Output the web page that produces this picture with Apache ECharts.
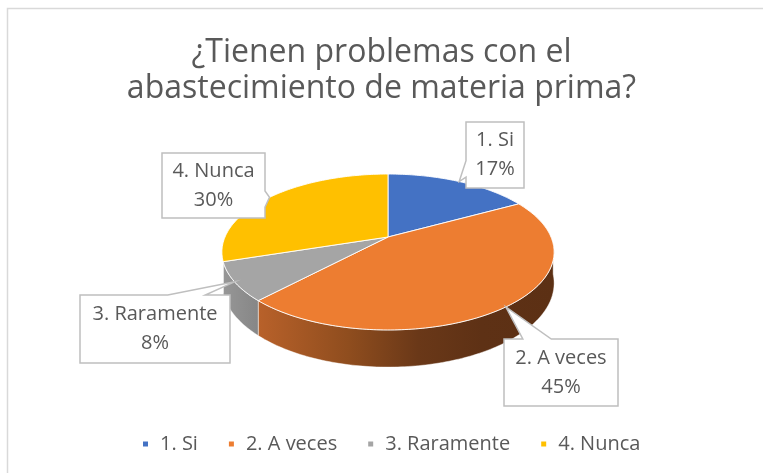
<!DOCTYPE html>
<html>
<head>
<meta charset="utf-8">
<script src="https://cdn.jsdelivr.net/npm/echarts@6/dist/echarts.min.js"></script>
<style>
  html, body { margin: 0; padding: 0; background: #fff; }
  #main { width: 763px; height: 473px; }
</style>
</head>
<body>
<div id="main"></div>
<script>
// datos
var categorias = ['1. Si', '2. A veces', '3. Raramente', '4. Nunca'];
var valores = [17, 45, 8, 30];
var colores = ['#4472c4', '#ed7d31', '#a5a5a5', '#ffc000'];

// cajas de las etiquetas [x, y, ancho, alto]
var cajas = [[466, 122, 58, 66], [504, 339, 114, 67], [80, 295, 150, 68], [162, 153, 103, 65]];

// degradados del lateral (izquierda -> derecha)
var lados = [
  [[0, '#3b63ab'], [1, '#233c69']],
  [[0, '#c56a2c'], [0.11, '#b8612a'], [0.38, '#8f4d1e'], [0.59, '#6a3818'], [0.78, '#5e3115'], [1, '#5c3014']],
  [[0, '#979797'], [0.11, '#868686'], [0.38, '#6e6e6e'], [1, '#555555']],
  [[0, '#c99700'], [1, '#7a5c00']]
];

// geometria del pastel (perspectiva simple)
var CX = 388, RX = 163, Y0 = 237, B = 29.5, C = -0.1923, H = 30;
var LADO_INI = 95, LADO_FIN = 252;  // tramo visible del lateral

function proyectar(ang, caida) {
  var r = ang * Math.PI / 180;
  var u = Math.sin(r), v = -Math.cos(r);
  var d = 1 + C * v;
  return [CX + RX * u / d, (Y0 + B * v + caida) / d];
}

function globo(b, tip) {
  var x = b[0], y = b[1], w = b[2], h = b[3];
  var cx = x + w / 2, cy = y + h / 2;
  var dx = (tip[0] - cx) / (w / 2), dy = (tip[1] - cy) / (h / 2);
  if (Math.abs(dy) >= Math.abs(dx)) {
    var sx = dx >= 0 ? 1 : -1;
    var b1 = cx + sx * 0.17 * w / 2, b2 = cx + sx * 0.67 * w / 2;
    var lo = Math.min(b1, b2), hi = Math.max(b1, b2);
    if (dy < 0) {
      return [[x, y], [lo, y], tip, [hi, y], [x + w, y], [x + w, y + h], [x, y + h]];
    }
    return [[x, y], [x + w, y], [x + w, y + h], [hi, y + h], tip, [lo, y + h], [x, y + h]];
  }
  var sy = dy >= 0 ? 1 : -1;
  var c1 = cy + sy * 0.17 * h / 2, c2 = cy + sy * 0.67 * h / 2;
  var top = Math.min(c1, c2), bot = Math.max(c1, c2);
  if (dx > 0) {
    return [[x, y], [x + w, y], [x + w, top], tip, [x + w, bot], [x + w, y + h], [x, y + h]];
  }
  return [[x, y], [x + w, y], [x + w, y + h], [x, y + h], [x, bot], tip, [x, top]];
}

var total = valores.reduce(function (a, b) { return a + b; }, 0);

function renderItem(params, api) {
  var i = params.dataIndex;
  var antes = 0;
  for (var k = 0; k < i; k++) antes += valores[k];
  var ini = antes / total * 360;
  var fin = ini + api.value(0) / total * 360;
  var hijos = [];

  // cara superior
  var pts = [[CX, Y0]];
  for (var a = ini; a < fin; a += 1) pts.push(proyectar(a, 0));
  pts.push(proyectar(fin, 0));
  hijos.push({
    type: 'polygon', z2: 20,
    shape: { points: pts },
    style: { fill: colores[i], stroke: 'rgba(255,255,255,0.9)', lineWidth: 1 }
  });

  // lateral visible (mitad delantera)
  var s = Math.max(ini, LADO_INI), e = Math.min(fin, LADO_FIN);
  if (e > s) {
    var lado = [];
    for (var b = s; b < e; b += 1) lado.push(proyectar(b, 0));
    lado.push(proyectar(e, 0));
    for (var c = e; c > s; c -= 1) lado.push(proyectar(c, H));
    lado.push(proyectar(s, H));
    hijos.push({
      type: 'polygon', z2: 10,
      shape: { points: lado },
      style: {
        fill: {
          type: 'linear', x: CX - RX - 3, y: 0, x2: CX + RX + 4, y2: 0, global: true,
          colorStops: lados[i].map(function (p) { return { offset: p[0], color: p[1] }; })
        },
        stroke: 'rgba(255,255,255,0.55)', lineWidth: 0.8
      }
    });
  }

  // etiqueta tipo globo
  var medio = (ini + fin) / 2;
  var punta = proyectar(medio, 0);
  var caja = cajas[i];
  hijos.push({
    type: 'polygon', z2: 30,
    shape: { points: globo(caja, punta) },
    style: { fill: '#fff', stroke: '#bfbfbf', lineWidth: 1.5 }
  });
  var pct = Math.round(api.value(0) / total * 100);
  hijos.push({
    type: 'text', z2: 31,
    style: {
      text: categorias[i] + '\n' + pct + '%',
      x: caja[0] + caja[2] / 2, y: caja[1] + caja[3] / 2,
      align: 'center', verticalAlign: 'middle',
      font: '20px "Open Sans"', fill: '#595959', lineHeight: 29
    }
  });

  return { type: 'group', children: hijos };
}

var myChart = echarts.init(document.getElementById('main'));
var option = {
  animation: false,
  backgroundColor: '#fff',
  title: {
    text: '¿Tienen problemas con el\nabastecimiento de materia prima?',
    left: 'center',
    top: 35,
    padding: [0, 0, 0, 12],
    textStyle: {
      fontFamily: 'Open Sans', fontSize: 32, fontWeight: 'normal',
      color: '#595959', lineHeight: 36
    }
  },
  legend: {
    bottom: 14,
    left: 138,
    icon: 'rect',
    itemWidth: 5,
    itemHeight: 5,
    itemGap: 31,
    selectedMode: false,
    data: categorias,
    textStyle: { fontFamily: 'Open Sans', fontSize: 20, color: '#595959', padding: [0, 0, 0, 7] }
  },
  graphic: [{
    type: 'rect', silent: true,
    shape: { x: 7.5, y: 8.5, width: 800, height: 500 },
    style: { fill: 'none', stroke: '#d9d9d9', lineWidth: 1.5 }
  }],
  series: [
    {
      // solo para la leyenda
      type: 'pie', z: 0, silent: true,
      center: [CX, Y0], radius: [0, 1],
      label: { show: false }, labelLine: { show: false },
      data: categorias.map(function (n, i) {
        return { name: n, value: valores[i], itemStyle: { color: colores[i] } };
      })
    },
    {
      type: 'custom', z: 2,
      coordinateSystem: 'none',
      renderItem: renderItem,
      data: valores
    }
  ]
};
myChart.setOption(option);
</script>
</body>
</html>
